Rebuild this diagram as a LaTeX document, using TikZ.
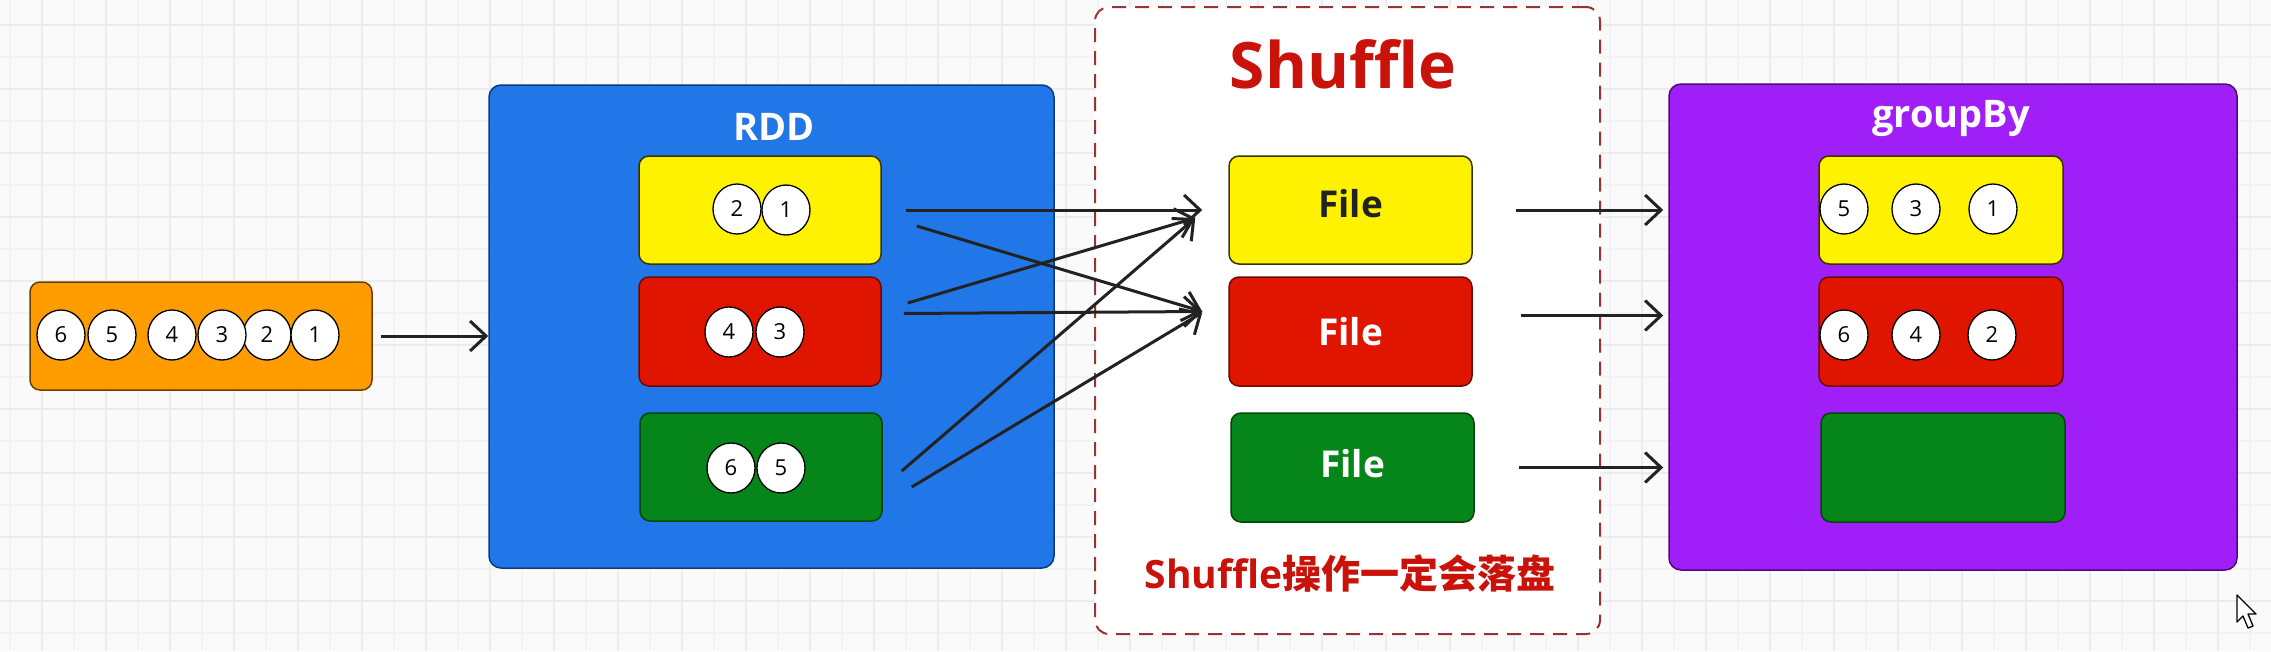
\documentclass[tikz,border=0pt]{standalone}
\usepackage{fontspec}
\setmainfont{Open Sans}
\newfontfamily\cjk{Noto Sans CJK SC}
\usetikzlibrary{arrows.meta,shapes.geometric}
\definecolor{bgc}{HTML}{FAFAFA}
\definecolor{gridmaj}{HTML}{ECECEC}
\definecolor{gridmin}{HTML}{F3F3F3}
\definecolor{orangeF}{HTML}{FF9C00}
\definecolor{orangeD}{HTML}{6A3F00}
\definecolor{blueF}{HTML}{2277E8}
\definecolor{blueD}{HTML}{0B3A85}
\definecolor{yellowF}{HTML}{FFF200}
\definecolor{yellowD}{HTML}{3A3500}
\definecolor{redF}{HTML}{E01500}
\definecolor{redD}{HTML}{6B0A00}
\definecolor{greenF}{HTML}{06861A}
\definecolor{greenD}{HTML}{00450A}
\definecolor{purpleF}{HTML}{A01EF8}
\definecolor{purpleD}{HTML}{4B0D75}
\definecolor{shufRed}{HTML}{C8120A}
\definecolor{dashc}{HTML}{993333}
\definecolor{arrowc}{HTML}{222222}
\tikzset{
  box/.style 2 args={draw=#2, fill=#1, line width=1.5pt, rounded corners=10pt, inner sep=0pt},
  ball/.style={ellipse, draw=black, fill=white, line width=1.3pt, minimum width=48pt, minimum height=50pt, inner sep=0pt, font=\fontsize{22}{24}\selectfont},
  arr/.style={draw=arrowc, line width=3pt, -{Straight Barb[length=16pt,width=30pt]}},
  title/.style={font=\bfseries\fontsize{38}{42}\selectfont, text=white, inner sep=0pt},
  filetxt/.style={font=\bfseries\fontsize{37}{40}\selectfont, inner sep=0pt},
}
\begin{document}
\begin{tikzpicture}[x=1pt,y=-1pt]
\useasboundingbox (0,0) rectangle (2271,651);
\fill[bgc] (0,0) rectangle (2271,651);
% grid
\foreach \x in {10,74,...,2271} \draw[gridmin, line width=1.5pt] (\x,0) -- (\x,651);
\foreach \y in {57,121,...,651} \draw[gridmin, line width=1.5pt] (0,\y) -- (2271,\y);
\foreach \x in {42,106,...,2271} \draw[gridmaj, line width=2pt] (\x,0) -- (\x,651);
\foreach \y in {25,89,...,651} \draw[gridmaj, line width=2pt] (0,\y) -- (2271,\y);

% input
\node[box={orangeF}{orangeD}, minimum width=342pt, minimum height=108pt] (O) at (201,336) {};
\node[ball] (o6) at (61,335) {6};
\node[ball] (o5) at (112,335) {5};
\node[ball] (o4) at (172,335) {4};
\node[ball] (o2) at (267,335) {2};
\node[ball] (o3) at (222,335) {3};
\node[ball] (o1) at (315,335) {1};

% RDD
\node[box={blueF}{blueD}, rounded corners=12pt, minimum width=565pt, minimum height=483pt] (R) at (771.5,326.5) {};
\node[title, anchor=base] (Rt) at (774,140) {RDD};
\node[box={yellowF}{yellowD}, minimum width=242pt, minimum height=108pt] (ry) at (760,210) {};
\node[box={redF}{redD}, minimum width=242pt, minimum height=109pt] (rr) at (760,331.5) {};
\node[box={greenF}{greenD}, minimum width=242pt, minimum height=108pt] (rg) at (761,467) {};
\node[ball] (r2) at (737,209) {2};
\node[ball] (r1) at (786,210) {1};
\node[ball] (r4) at (729,332) {4};
\node[ball] (r3) at (780,332) {3};
\node[ball] (r6) at (731,468) {6};
\node[ball] (r5) at (781,468) {5};

% Shuffle
\node[draw=dashc, fill=white, line width=2pt, dash pattern=on 14pt off 9pt, rounded corners=14pt, minimum width=505pt, minimum height=627pt, inner sep=0pt] (S) at (1347.5,320.5) {};
\node[font=\bfseries\fontsize{64}{70}\selectfont, text=shufRed, anchor=base, inner sep=0pt] (St) at (1343,88) {Shuffle};
\node[box={yellowF}{yellowD}, minimum width=243pt, minimum height=108pt] (fy) at (1350.5,210) {};
\node[box={redF}{redD}, minimum width=243pt, minimum height=109pt] (fr) at (1350.5,331.5) {};
\node[box={greenF}{greenD}, minimum width=243pt, minimum height=109pt] (fg) at (1352.5,467.5) {};
\node[filetxt, text=arrowc] (fyt) at ([yshift=6pt]fy.center) {File};
\node[filetxt, text=white] (frt) at (fr.center) {File};
\node[filetxt, text=white] (fgt) at ([yshift=4pt]fg.center) {File};
\node[text=shufRed, inner sep=0pt, font=\bfseries\fontsize{39}{44}\selectfont] (Sb) at (1350,573) {Shuffle{\cjk\bfseries 操作一定会落盘}};

% groupBy
\node[box={purpleF}{purpleD}, rounded corners=12pt, minimum width=568pt, minimum height=486pt] (G) at (1953,327) {};
\node[title, anchor=base] (Gt) at (1951,127) {groupBy};
\node[box={yellowF}{yellowD}, minimum width=244pt, minimum height=108pt] (gy) at (1941,210) {};
\node[box={redF}{redD}, minimum width=244pt, minimum height=109pt] (gr) at (1941,331.5) {};
\node[box={greenF}{greenD}, minimum width=244pt, minimum height=109pt] (gg) at (1943,467.5) {};
\node[ball] (g5) at (1844,209) {5};
\node[ball] (g3) at (1916,209) {3};
\node[ball] (g1) at (1993,209) {1};
\node[ball] (g6) at (1844,335) {6};
\node[ball] (g4) at (1916,335) {4};
\node[ball] (g2) at (1992,335) {2};

% connectors
\draw[arr] ([xshift=8pt]O.east) -- (O.east -| R.west);
\draw[arr] ([shift={(24,0)}]ry.east) -- ([shift={(-26,0)}]fy.west);
\draw[arr] ([shift={(35,16)}]ry.east) -- ([shift={(-26,-20)}]fr.west);
\draw[arr] ([shift={(26,-28.5)}]rr.east) -- ([shift={(-33,8)}]fy.west);
\draw[arr] ([shift={(22,-18)}]rr.east) -- ([shift={(-26,-20)}]fr.west);
\draw[arr] ([shift={(19,4)}]rg.east) -- ([shift={(-33,8)}]fy.west);
\draw[arr] ([shift={(29,20)}]rg.east) -- ([shift={(-26,-19)}]fr.west);
\draw[arr] ([xshift=43pt]fy.east) -- ([xshift=-5pt]fy.east -| G.west);
\draw[arr] ([shift={(48,-16)}]fr.east) -- ([shift={(-5,-16)}]fr.east -| G.west);
\draw[arr] ([xshift=44pt]fg.east) -- ([xshift=-5pt]fg.east -| G.west);

% cursor
\draw[fill=white, draw=black, line width=1.3pt, line join=round] (2237,595) -- (2237,622) -- (2243,616) -- (2248,628) -- (2253,626) -- (2248,614) -- (2256,614) -- cycle;
\end{tikzpicture}
\end{document}
